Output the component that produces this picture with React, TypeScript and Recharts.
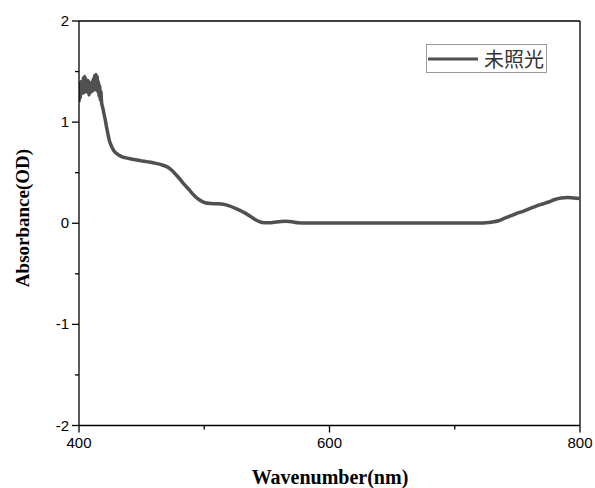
import React from 'react'
import { LineChart, Line, XAxis, YAxis, ReferenceLine, Legend } from 'recharts'

// wavelength (nm) and absorbance (OD)
const wavelength = [
  400, 400.5, 401, 401.5, 402, 402.5, 403, 403.5, 404, 404.5,
  405, 405.5, 406, 406.5, 407, 407.5, 408, 408.5, 409, 409.5,
  410, 410.5, 411, 411.5, 412, 412.5, 413, 413.5, 414, 414.5,
  415, 415.5, 416, 416.5, 417, 417.5, 418, 419, 420, 421,
  422, 423, 424, 425, 426, 427, 428, 430, 432, 435,
  440, 445, 450, 455, 460, 465, 470, 473, 476, 480,
  484, 488, 492, 496, 500, 505, 510, 515, 520, 524,
  528, 532, 536, 540, 544, 548, 552, 556, 560, 565,
  570, 575, 580, 600, 620, 650, 680, 700, 720, 725,
  730, 735, 740, 745, 750, 755, 760, 765, 770, 775,
  780, 785, 790, 795, 800,
]

const absorbance = [
  1.2, 1.36, 1.24, 1.4, 1.28, 1.38, 1.3, 1.44, 1.29, 1.45,
  1.32, 1.43, 1.3, 1.4, 1.33, 1.41, 1.27, 1.39, 1.29, 1.37,
  1.3, 1.4, 1.31, 1.43, 1.33, 1.46, 1.32, 1.47, 1.34, 1.45,
  1.3, 1.4, 1.26, 1.36, 1.22, 1.3, 1.2, 1.14, 1.08, 1.02,
  0.95, 0.89, 0.83, 0.79, 0.76, 0.735, 0.715, 0.69, 0.672, 0.655,
  0.64, 0.627, 0.617, 0.607, 0.596, 0.582, 0.56, 0.535, 0.5, 0.445,
  0.385, 0.33, 0.275, 0.232, 0.205, 0.195, 0.193, 0.188, 0.172, 0.152,
  0.13, 0.105, 0.075, 0.042, 0.016, 0.005, 0.005, 0.01, 0.015, 0.02,
  0.015, 0.005, 0.003, 0.002, 0.002, 0.002, 0.002, 0.002, 0.003, 0.005,
  0.012, 0.025, 0.05, 0.075, 0.1, 0.12, 0.145, 0.17, 0.19, 0.21,
  0.235, 0.25, 0.255, 0.25, 0.245,
]

const xTicks = [400, 500, 600, 700, 800]
const yTicks = [-2, -1.5, -1, -0.5, 0, 0.5, 1, 1.5, 2]
const xLabels = [400, 600, 800]
const seriesName = '未照光'

const data = wavelength.map((w, i) => ({ w, a: absorbance[i] }))

const lineColor = '#505050'
const tickFont = '"Liberation Sans", Arial, sans-serif'
const titleFont = '"Liberation Serif", "Times New Roman", serif'

const XTick = (props: any) => {
  const { x, y, payload } = props
  const major = xLabels.includes(payload.value)
  return (
    <g>
      <line x1={x} x2={x} y1={y} y2={y + (major ? 7 : 4)} stroke="#000" strokeWidth={1.3} />
      {major && (
        <text x={x} y={y + 22} textAnchor="middle" fontSize={15} fontFamily={tickFont} fill="#000">
          {payload.value}
        </text>
      )}
    </g>
  )
}

const YTick = (props: any) => {
  const { x, y, payload } = props
  const major = Number.isInteger(payload.value)
  return (
    <g>
      <line x1={x} x2={x - (major ? 7 : 4)} y1={y} y2={y} stroke="#000" strokeWidth={1.3} />
      {major && (
        <text x={x - 10} y={y + 5} textAnchor="end" fontSize={15} fontFamily={tickFont} fill="#000">
          {payload.value}
        </text>
      )}
    </g>
  )
}

const renderLegend = () => (
  <div
    style={{
      width: 119,
      height: 27,
      border: '1px solid #9a9a9a',
      display: 'flex',
      alignItems: 'center',
      background: '#fff',
    }}
  >
    <svg width={52} height={10} style={{ marginLeft: 1 }}>
      <line x1={0} x2={50} y1={5} y2={5} stroke={lineColor} strokeWidth={3} />
    </svg>
    <span
      style={{
        marginLeft: 4,
        fontSize: 20,
        fontFamily: '"Noto Sans CJK SC", sans-serif',
        color: '#333',
        lineHeight: '27px',
      }}
    >
      {seriesName}
    </span>
  </div>
)

export default function App() {
  return (
    <div style={{ position: 'absolute', left: 0, top: 0, width: 595, height: 488, background: '#fff' }}>
      <LineChart width={595} height={488} data={data} margin={{ top: 21, right: 15, bottom: 0, left: 0 }}>
        <XAxis
          dataKey="w"
          type="number"
          domain={[400, 800]}
          ticks={xTicks}
          interval={0}
          height={62.5}
          tickSize={0}
          tickMargin={0}
          tick={<XTick />}
          axisLine={{ stroke: '#000', strokeWidth: 1.3 }}
          allowDataOverflow
        />
        <YAxis
          type="number"
          domain={[-2, 2]}
          ticks={yTicks}
          interval={0}
          width={79}
          tickSize={0}
          tickMargin={0}
          tick={<YTick />}
          axisLine={{ stroke: '#000', strokeWidth: 1.3 }}
          allowDataOverflow
        />
        <ReferenceLine y={2} stroke="#000" strokeWidth={1.3} />
        <ReferenceLine x={800} stroke="#000" strokeWidth={1.3} />
        <Legend
          layout="vertical"
          align="center"
          verticalAlign="middle"
          content={renderLegend}
          wrapperStyle={{ left: 426, top: 44, width: 121 }}
        />
        <Line
          dataKey="a"
          name={seriesName}
          type="monotone"
          stroke={lineColor}
          strokeWidth={3.5}
          dot={false}
          isAnimationActive={false}
        />
        <text
          x={330}
          y={484}
          textAnchor="middle"
          fontSize={20}
          fontWeight="bold"
          fontFamily={titleFont}
          fill="#000"
        >
          Wavenumber(nm)
        </text>
        <text
          x={22}
          y={218}
          transform="rotate(-90 22 218)"
          textAnchor="middle"
          dominantBaseline="central"
          fontSize={19}
          fontWeight="bold"
          fontFamily={titleFont}
          fill="#000"
        >
          Absorbance(OD)
        </text>
      </LineChart>
    </div>
  )
}
